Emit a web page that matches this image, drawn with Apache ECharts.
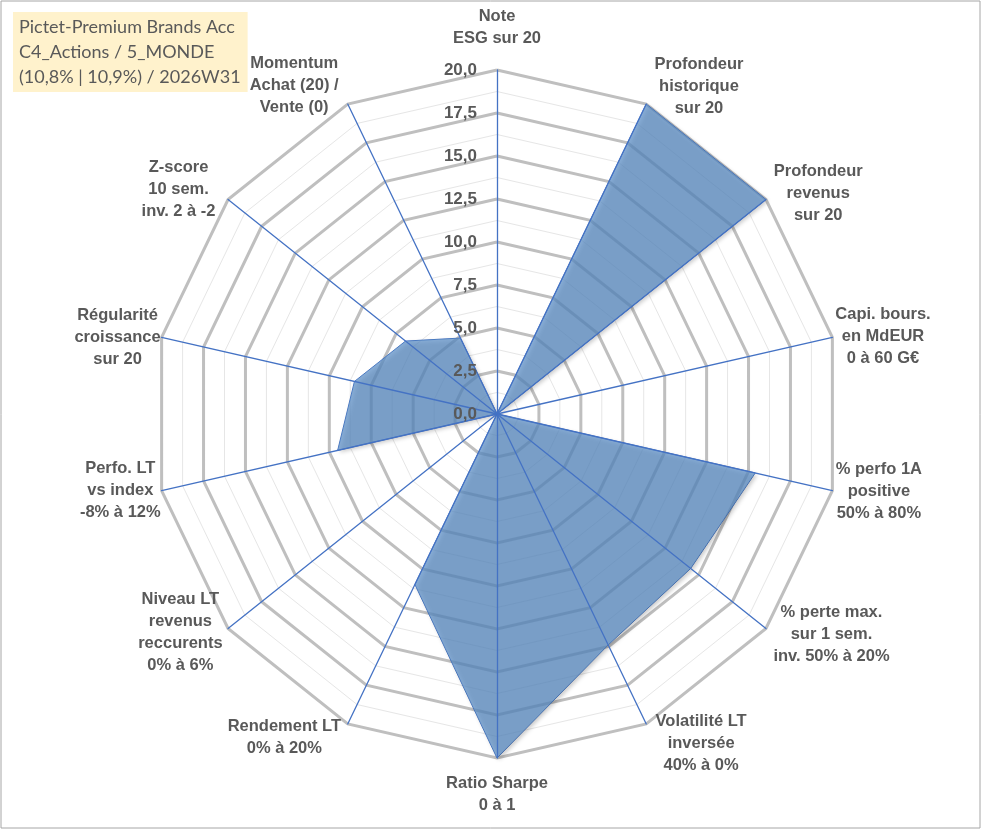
<!DOCTYPE html>
<html>
<head>
<meta charset="utf-8">
<title>Radar Pictet-Premium Brands</title>
<script src="https://cdn.jsdelivr.net/npm/echarts@6/dist/echarts.min.js"></script>
<style>
html, body { margin: 0; padding: 0; background: #fff; }
#chart { width: 991px; height: 830px; }
</style>
</head>
<body>
<div id="chart"></div>
<script>
// criteres, dans le sens horaire en partant du haut
var criteres = [
    "Note\nESG sur 20",
    "Profondeur\nhistorique\nsur 20",
    "Profondeur\nrevenus\nsur 20",
    "Capi. bours.\nen MdEUR\n0 à 60 G€",
    "% perfo 1A\npositive\n50% à 80%",
    "% perte max.\nsur 1 sem.\ninv. 50% à 20%",
    "Volatilité LT\ninversée\n40% à 0%",
    "Ratio Sharpe\n0 à 1",
    "Rendement LT\n0% à 20%",
    "Niveau LT\nrevenus\nreccurents\n0% à 6%",
    "Perfo. LT\nvs index\n-8% à 12%",
    "Régularité\ncroissance\nsur 20",
    "Z-score\n10 sem.\ninv. 2 à -2",
    "Momentum\nAchat (20) /\nVente (0)"
];
var notes = [0, 20, 20, 0, 15.4, 14.4, 14.9, 20, 11.0, 0, 9.5, 8.5, 6.8, 4.9];
var titre = ["Pictet-Premium Brands Acc", "C4_Actions / 5_MONDE", "(10,8% | 10,9%) / 2026W31"];
var noteMin = 0;
var noteMax = 20;

// ecart entre le sommet et le libelle de chaque axe
var ecarts = [21, 19, 10, 3, 3.5, 9.5, 21.5, 14, 15.5, 7, 1, 1, 16, 21];

// echarts tourne dans le sens anti-horaire : on garde le premier et on inverse le reste
function sensHoraire(arr) {
    return [arr[0]].concat(arr.slice(1).reverse());
}

var noms = sensHoraire(criteres);
var gaps = sensHoraire(ecarts);

var grille = noms.map(function (nom) {
    return { name: nom, min: noteMin, max: noteMax };
});
var axes = noms.map(function (nom, i) {
    var ind = { name: nom, min: noteMin, max: noteMax, nameGap: gaps[i] };
    if (i === 0)
        ind.axisLabel = { show: true };
    return ind;
});

var centre = [497, 414];
var rayon = 344;

function baseRadar(ind, split, z) {
    return {
        center: centre,
        radius: rayon,
        startAngle: 90,
        shape: 'polygon',
        splitNumber: split,
        indicator: ind,
        z: z,
        axisName: { show: false },
        axisLine: { show: false },
        axisTick: { show: false },
        axisLabel: { show: false },
        splitArea: { show: false },
        splitLine: { show: false }
    };
}

var fin = baseRadar(grille, 16, 0);
fin.splitLine = { show: true, lineStyle: { color: '#E6E6E6', width: 1 } };

var epais = baseRadar(grille, 8, 1);
epais.splitLine = { show: true, lineStyle: { color: '#BFBFBF', width: 3 } };

var dessus = baseRadar(axes, 8, 5);
dessus.axisLine = { show: true, lineStyle: { color: '#4472C4', width: 1.3 } };
dessus.axisName = {
    show: true,
    color: '#595959',
    fontFamily: 'Liberation Sans',
    fontSize: 16.5,
    fontWeight: 'bold',
    formatter: function (nom) { return '{a|' + nom + '}'; },
    rich: {
        a: {
            align: 'center',
            color: '#595959',
            fontFamily: 'Liberation Sans',
            fontSize: 16.5,
            fontWeight: 'bold',
            lineHeight: 22
        }
    }
};
dessus.axisLabel = {
    show: false,
    color: '#595959',
    fontFamily: 'Liberation Sans',
    fontSize: 17,
    fontWeight: 'bold',
    margin: 20,
    formatter: function (v) { return v.toFixed(1).replace('.', ','); }
};

var chart = echarts.init(document.getElementById('chart'));

var options = {
    backgroundColor: '#ffffff',
    animation: false,
    title: {
        text: titre.join('\n'),
        left: 13,
        top: 12,
        backgroundColor: '#FFF2CC',
        padding: [3, 7, 2, 6],
        textStyle: {
            fontFamily: 'Lato',
            fontWeight: 'normal',
            fontSize: 18,
            lineHeight: 25,
            color: '#595959'
        }
    },
    graphic: [{
        type: 'rect',
        shape: { x: 1, y: 1, width: 979, height: 827 },
        style: { fill: 'none', stroke: '#A6A6A6', lineWidth: 1 },
        silent: true
    }],
    radar: [fin, epais, dessus],
    series: [{
        type: 'radar',
        radarIndex: 1,
        z: 3,
        symbol: 'none',
        lineStyle: { color: '#4472C4', width: 1 },
        areaStyle: {
            color: '#5A8DC6',
            opacity: 0.72,
            shadowColor: 'rgba(0,0,0,0.3)',
            shadowBlur: 4,
            shadowOffsetX: 2,
            shadowOffsetY: 2
        },
        data: [{ name: 'Note', value: sensHoraire(notes) }]
    }]
};

chart.setOption(options);
</script>
</body>
</html>
